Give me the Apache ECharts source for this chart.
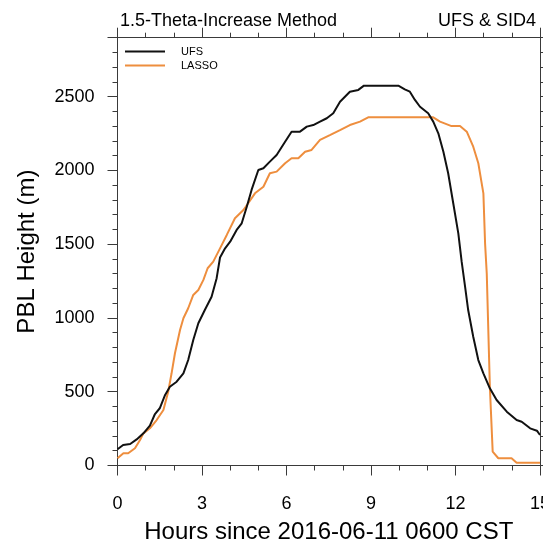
<!DOCTYPE html>
<html>
<head>
<meta charset="utf-8">
<script src="https://cdn.jsdelivr.net/npm/echarts@6/dist/echarts.min.js"></script>
<style>
html,body{margin:0;padding:0;background:#fff;}
#chart{width:543px;height:548px;}
</style>
</head>
<body>
<div id="chart"></div>
<script>
// ---- data (hours since 2016-06-11 0600 CST, PBL height in m) ----
var ufsHours = [0, 0.2, 0.45, 0.68, 0.92, 1.15, 1.33, 1.5, 1.69, 1.86, 2.1, 2.34, 2.51, 2.69, 2.87, 3.1, 3.34, 3.52, 3.64, 3.82, 4.0, 4.23, 4.41, 4.59, 4.76, 5.0, 5.18, 5.41, 5.65, 5.95, 6.18, 6.48, 6.72, 6.95, 7.19, 7.43, 7.66, 7.9, 8.25, 8.55, 8.75, 9.97, 10.2, 10.38, 10.56, 10.74, 11.03, 11.21, 11.39, 11.57, 11.74, 11.92, 12.1, 12.22, 12.34, 12.45, 12.63, 12.81, 12.99, 13.22, 13.46, 13.82, 14.17, 14.35, 14.65, 14.89, 15];
var ufsPBL = [110, 139, 146, 177, 218, 270, 349, 388, 478, 534, 568, 625, 715, 851, 964, 1054, 1144, 1270, 1410, 1472, 1517, 1597, 1642, 1754, 1868, 2003, 2015, 2060, 2105, 2195, 2263, 2263, 2297, 2308, 2331, 2354, 2388, 2466, 2534, 2546, 2575, 2575, 2550, 2534, 2478, 2432, 2388, 2331, 2252, 2127, 1981, 1778, 1574, 1380, 1212, 1054, 873, 715, 625, 523, 444, 365, 308, 297, 252, 236, 207];

var lassoHours = [0, 0.21, 0.38, 0.62, 0.8, 0.92, 1.15, 1.39, 1.63, 1.8, 1.92, 2.04, 2.22, 2.34, 2.51, 2.69, 2.87, 3.05, 3.2, 3.4, 3.64, 3.88, 4.17, 4.47, 4.64, 4.88, 5.18, 5.41, 5.65, 5.95, 6.18, 6.42, 6.66, 6.89, 7.19, 7.54, 7.9, 8.25, 8.61, 8.9, 11.21, 11.45, 11.86, 12.16, 12.4, 12.63, 12.81, 12.99, 13.05, 13.11, 13.22, 13.32, 13.52, 13.99, 14.17, 15];
var lassoPBL = [49, 83, 83, 117, 173, 218, 252, 308, 376, 500, 625, 761, 919, 998, 1066, 1156, 1190, 1258, 1337, 1382, 1472, 1563, 1676, 1732, 1778, 1845, 1890, 1981, 1992, 2049, 2083, 2083, 2127, 2139, 2207, 2240, 2274, 2308, 2331, 2360, 2360, 2331, 2301, 2301, 2263, 2161, 2049, 1845, 1506, 1300, 534, 94, 49, 49, 19, 19];

var seriesNames = ['UFS', 'LASSO'];
var xTickLabels = [0, 3, 6, 9, 12, 15];
var yTickLabels = [0, 500, 1000, 1500, 2000, 2500];

function zip(xs, ys) { return xs.map(function (x, i) { return [x, ys[i]]; }); }

var FONT = '"Liberation Sans", Arial, Helvetica, sans-serif';
var AX = '#3a3a3a';

var chart = echarts.init(document.getElementById('chart'), null, {renderer: 'canvas'});

var gridL = 117.5, gridT = 37.7, gridW = 422.5, gridH = 427.8;

function baseLine() { return {show: true, onZero: false, lineStyle: {color: AX, width: 1}}; }
function plain(v) { return yTickLabels.indexOf(v) >= 0 || xTickLabels.indexOf(v) >= 0 ? String(v) : ''; }
function tick(len) { return {show: true, inside: false, length: len, lineStyle: {color: AX, width: 1}}; }
function minor(n) { return {show: true, splitNumber: n, length: 5, lineStyle: {color: AX, width: 1}}; }

var option = {
  animation: false,
  backgroundColor: '#fff',
  textStyle: {fontFamily: FONT},
  title: [
    {text: '1.5-Theta-Increase Method', left: 115, top: 7,
     textStyle: {fontFamily: FONT, fontSize: 18, fontWeight: 'normal', color: '#000'}},
    {text: 'UFS & SID4', right: 2, top: 7,
     textStyle: {fontFamily: FONT, fontSize: 18, fontWeight: 'normal', color: '#000'}}
  ],
  legend: {
    orient: 'vertical', left: 120, top: 40, itemGap: 1,
    itemWidth: 40, itemHeight: 2, icon: 'rect',
    data: seriesNames,
    textStyle: {fontFamily: FONT, fontSize: 11, color: '#000', padding: [0, 0, 0, 11], lineHeight: 13}
  },
  grid: [
    {left: gridL, top: gridT, width: gridW, height: gridH, outerBoundsMode: 'none'}
  ],
  xAxis: [
    {gridIndex: 0, type: 'value', position: 'bottom', min: 0, max: 15, interval: 3,
     axisLine: baseLine(), axisTick: tick(10), minorTick: minor(3),
     axisLabel: {fontFamily: FONT, fontSize: 18, color: '#000', margin: 30, formatter: plain},
     splitLine: {show: false}, minorSplitLine: {show: false},
     name: 'Hours since 2016-06-11 0600 CST', nameLocation: 'middle', nameGap: 55,
     nameMoveOverlap: false,
     nameTextStyle: {fontFamily: FONT, fontSize: 24, color: '#000'}},
    {gridIndex: 0, type: 'value', position: 'top', min: 0, max: 15, interval: 3,
     axisLine: baseLine(), axisTick: tick(10), minorTick: minor(3),
     axisLabel: {show: false}, splitLine: {show: false}, minorSplitLine: {show: false}}
  ],
  yAxis: [
    {gridIndex: 0, type: 'value', position: 'left', min: 0, max: 2900, interval: 500,
     axisLine: baseLine(), axisTick: tick(10), minorTick: minor(5),
     axisLabel: {fontFamily: FONT, fontSize: 18, color: '#000', margin: 23, formatter: plain},
     splitLine: {show: false}, minorSplitLine: {show: false},
     name: 'PBL Height (m)', nameLocation: 'middle', nameGap: 78, nameMoveOverlap: false,
     nameTextStyle: {fontFamily: FONT, fontSize: 24, color: '#000'}},
    {gridIndex: 0, type: 'value', position: 'right', min: 0, max: 2900, interval: 500,
     axisLine: baseLine(), axisTick: tick(10), minorTick: minor(5),
     axisLabel: {show: false}, splitLine: {show: false}, minorSplitLine: {show: false}}
  ],
  series: [
    {name: seriesNames[0], type: 'line', xAxisIndex: 0, yAxisIndex: 0,
     data: zip(ufsHours, ufsPBL), showSymbol: false, symbol: 'none',
     lineStyle: {color: '#111', width: 2}, itemStyle: {color: '#111'}, z: 3},
    {name: seriesNames[1], type: 'line', xAxisIndex: 0, yAxisIndex: 0,
     data: zip(lassoHours, lassoPBL), showSymbol: false, symbol: 'none',
     lineStyle: {color: '#EE8E3E', width: 2}, itemStyle: {color: '#EE8E3E'}, z: 2}
  ]
};
chart.setOption(option);
</script>
</body>
</html>
